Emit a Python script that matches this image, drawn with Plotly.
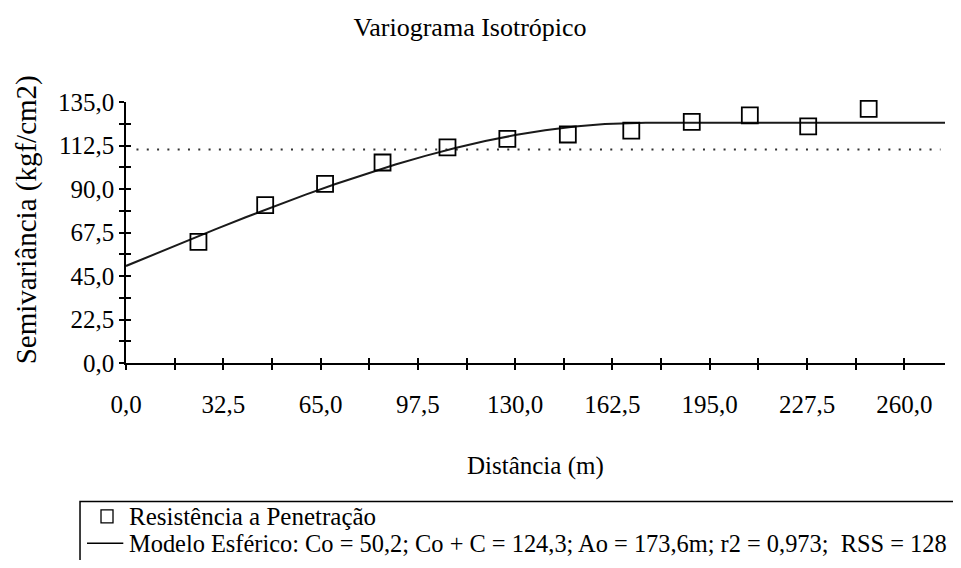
import plotly.graph_objects as go

# ---- data ----
lag_distance = [24.2, 46.5, 66.5, 85.7, 107.4, 127.4, 147.6, 168.8, 189.0, 208.4, 227.9, 248.1]
semivariance = [62.7, 81.7, 92.7, 103.7, 111.5, 115.9, 118.2, 120.2, 124.7, 128.1, 122.4, 131.4]

# fitted spherical model (Co = 50.2, Co + C = 124.3, Ao = 173.6 m), values along the curve
model_distance = [0, 10, 20, 30, 40, 50, 60, 70, 80, 90, 100, 110, 120, 130, 140, 150, 160, 170, 173.6, 273.6]
model_gamma = [50.2, 56.6, 62.95, 69.22, 75.36, 81.33, 87.09, 92.59, 97.8, 102.66, 107.15,
               111.2, 114.8, 117.88, 120.41, 122.34, 123.64, 124.25, 124.3, 124.3]

# dotted reference (sample variance)
variance_distance = [3.5, 272.1]
variance_level = [110.4, 110.4]

x_range = [0, 273.6]
y_range = [0, 135]

title_text = "Variograma Isotrópico"
x_title = "Distância (m)"
y_title = "Semivariância (kgf/cm2)"
legend_points = "Resistência a Penetração"
legend_model = "Modelo Esférico: Co = 50,2; Co + C = 124,3; Ao = 173,6m; r2 = 0,973;  RSS = 128"

FONT = "Liberation Serif, Times New Roman, serif"
FS = 25

# ---- layout geometry (figure pixels; page has an 8px body margin) ----
OFF = 8
W, H = 961 - 2 * OFF, 568 - 2 * OFF
L = 125.7 - OFF
R = W - (945 - OFF)
T = 101.7 - OFF
B = H - (363.3 - OFF)
pw = W - L - R
ph = H - T - B


def px_x(page_x):
    return (page_x - OFF - L) / pw


def px_y(page_y):
    return (H - B - (page_y - OFF)) / ph


LEG_TOP = 502
LEG_ROW1 = 517
LEG_ROW2 = 544

fig = go.Figure()

fig.add_trace(go.Scatter(
    x=variance_distance, y=variance_level, mode="lines",
    line=dict(color="#333333", width=2, dash="2px,8.3px"),
    showlegend=False, hoverinfo="skip", name="variância"))

fig.add_trace(go.Scatter(
    x=model_distance, y=model_gamma, mode="lines",
    line=dict(color="#1a1a1a", width=2),
    showlegend=False, name="Modelo Esférico"))

fig.add_trace(go.Scatter(
    x=lag_distance, y=semivariance, mode="markers", cliponaxis=False,
    marker=dict(symbol="square-open", size=16, color="black", line=dict(width=1.8, color="black")),
    showlegend=False, name=legend_points))

# invisible trace for the overlay axes (inside half of crossing ticks)
fig.add_trace(go.Scatter(x=[None], y=[None], xaxis="x2", yaxis="y2",
                         showlegend=False, hoverinfo="skip"))

common_tick = dict(tickcolor="black", tickwidth=1.5, ticklen=5)

fig.update_layout(
    width=W, height=H,
    margin=dict(l=L, r=R, t=T, b=B, pad=0),
    paper_bgcolor="white", plot_bgcolor="white",
    separators=",.",
    font=dict(family=FONT, size=FS, color="black"),
    title=dict(text=title_text, x=(470 - OFF) / W, y=1 - (27 - OFF) / H,
               xanchor="center", yanchor="middle",
               xref="container", yref="container", font=dict(family=FONT, size=26, color="black")),
    xaxis=dict(range=x_range, tick0=0, dtick=32.5, tickformat=".1f",
               ticks="outside", **common_tick,
               minor=dict(tick0=0, dtick=16.25, ticks="outside", ticklen=5, tickwidth=1.5, tickcolor="black"),
               showline=True, linecolor="black", linewidth=2,
               showgrid=False, zeroline=False,
               ticklabelstandoff=13, tickfont=dict(family=FONT, size=FS, color="black")),
    yaxis=dict(range=y_range, tick0=0, dtick=22.5, tickformat=".1f",
               ticks="outside", **common_tick,
               minor=dict(tick0=0, dtick=11.25, ticks="outside", ticklen=5, tickwidth=1.5, tickcolor="black"),
               showline=True, linecolor="black", linewidth=1.5,
               showgrid=False, zeroline=False,
               tickfont=dict(family=FONT, size=FS, color="black")),
    xaxis2=dict(overlaying="x", anchor="y2", range=x_range, tick0=0, dtick=16.25,
                ticks="inside", **common_tick, showticklabels=False,
                showline=False, showgrid=False, zeroline=False),
    yaxis2=dict(overlaying="y", anchor="x2", range=y_range, tick0=0, dtick=11.25,
                ticks="inside", **common_tick, showticklabels=False,
                showline=False, showgrid=False, zeroline=False),
    showlegend=False,
)

annotations = [
    dict(text=x_title, x=0.5, y=px_y(467), xref="paper", yref="paper",
         xanchor="center", yanchor="middle", showarrow=False, font=dict(family=FONT, size=FS)),
    dict(text=y_title, x=px_x(26), y=px_y(220), xref="paper", yref="paper", textangle=-90,
         xanchor="center", yanchor="middle", showarrow=False, font=dict(family=FONT, size=29)),
    dict(text=legend_points, x=px_x(126.7), y=px_y(LEG_ROW1), xref="paper", yref="paper",
         xanchor="left", yanchor="middle", showarrow=False, font=dict(family=FONT, size=FS)),
    dict(text=legend_model, x=px_x(126.7), y=px_y(LEG_ROW2), xref="paper", yref="paper",
         xanchor="left", yanchor="middle", showarrow=False, font=dict(family=FONT, size=24.4)),
]
fig.update_layout(annotations=annotations)

shapes = [
    # legend frame (runs off the right and bottom edges)
    dict(type="rect", xref="paper", yref="paper",
         x0=px_x(79.7), x1=px_x(990), y0=px_y(LEG_TOP), y1=px_y(600),
         line=dict(color="black", width=1.5), fillcolor="rgba(0,0,0,0)"),
    # legend symbol: open square
    dict(type="rect", xref="paper", yref="paper",
         x0=px_x(100.7), x1=px_x(112.7), y0=px_y(LEG_ROW1 - 6.5), y1=px_y(LEG_ROW1 + 6.5),
         line=dict(color="black", width=1.3), fillcolor="rgba(0,0,0,0)"),
    # legend symbol: line
    dict(type="line", xref="paper", yref="paper",
         x0=px_x(86.7), x1=px_x(123), y0=px_y(LEG_ROW2), y1=px_y(LEG_ROW2),
         line=dict(color="black", width=1.5)),
]
fig.update_layout(shapes=shapes)

fig.write_html("out.html")
